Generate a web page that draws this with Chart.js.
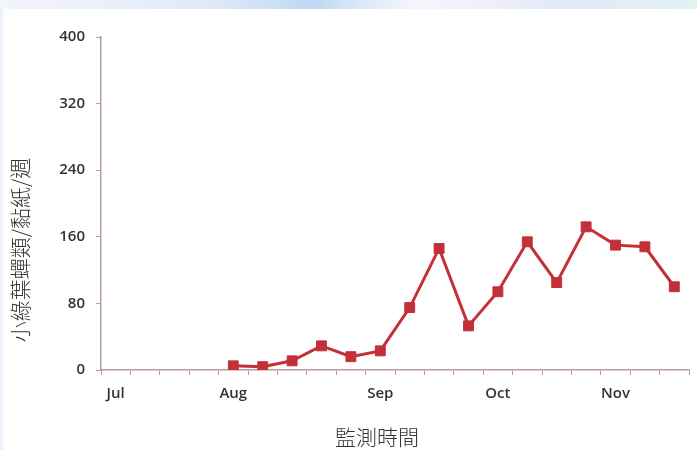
<!DOCTYPE html>
<html>
<head>
<meta charset="utf-8">
<script src="https://cdn.jsdelivr.net/npm/chart.js@4"></script>
<style>
  html, body { margin: 0; padding: 0; background: #fff; }
  #wrap { width: 697px; height: 450px; }
</style>
</head>
<body>
<div id="wrap"><canvas id="myChart"></canvas></div>
<script>
// weekly categories, Jul .. late Nov
var semanas = ['7/1','7/8','7/15','7/22','7/29','8/5','8/12','8/19','8/26','9/2',
               '9/9','9/16','9/23','9/30','10/7','10/14','10/21','10/28','11/4','11/11'];
// tick label shown under a given week index
var meses = ['Jul','','','','Aug','','','','','Sep','','','','Oct','','','','Nov','',''];
// leafhoppers per sticky trap per week
var capturas = [null,null,null,null,5,4,11,29,16,23,75,146,53,94,154,105,172,150,148,100];
var yTicks = [0, 80, 160, 240, 320, 400];
var tituloX = '監測時間';
var tituloY = '小綠葉蟬類/黏紙/週';

var rojo = '#c3303a';
var ejeColor = '#b59d94';

// faint decorative band at the top and left edge, like the printed page
const fondo = {
  id: 'fondo',
  beforeDraw(chart) {
    const c = chart.ctx;
    c.save();
    c.fillStyle = '#fff';
    c.fillRect(0, 0, chart.width, chart.height);
    var g = c.createLinearGradient(0, 0, chart.width, 0);
    g.addColorStop(0, 'rgba(230,234,248,0.5)');
    g.addColorStop(0.3, 'rgba(205,218,242,0.6)');
    g.addColorStop(0.45, 'rgba(160,200,238,0.7)');
    g.addColorStop(0.6, 'rgba(230,232,246,0.4)');
    g.addColorStop(0.8, 'rgba(210,218,242,0.6)');
    g.addColorStop(1, 'rgba(205,232,236,0.6)');
    c.fillStyle = g;
    c.fillRect(0, 0, chart.width, 9);
    var g2 = c.createLinearGradient(0, 0, 7, 0);
    g2.addColorStop(0, 'rgba(215,222,245,0.6)');
    g2.addColorStop(1, 'rgba(255,255,255,0)');
    c.fillStyle = g2;
    c.fillRect(0, 9, 7, chart.height);
    c.restore();
  }
};

// axis titles, placed like in the original figure
const titulos = {
  id: 'titulos',
  afterDraw(chart) {
    const c = chart.ctx;
    c.save();
    c.fillStyle = '#333';
    c.font = '300 21px "Noto Sans CJK TC"';
    c.textAlign = 'center';
    c.textBaseline = 'middle';
    c.fillText(tituloX, 377, 437);
    c.translate(20, 250);
    c.rotate(-Math.PI / 2);
    c.fillText(tituloY, 0, 0);
    c.restore();
  }
};

const ctx = document.getElementById('myChart').getContext('2d');
const myChart = new Chart(ctx, {
  type: 'line',
  data: {
    labels: semanas,
    datasets: [{
      label: '小綠葉蟬類',
      data: capturas,
      borderColor: rojo,
      backgroundColor: rojo,
      borderWidth: 3,
      pointStyle: 'rect',
      pointRadius: 7,
      pointHoverRadius: 7,
      pointBorderWidth: 1,
      tension: 0,
      spanGaps: false
    }]
  },
  options: {
    responsive: true,
    maintainAspectRatio: false,
    animation: false,
    events: [],
    layout: { padding: { left: 0, right: 7, top: 37, bottom: 0 } },
    plugins: { legend: { display: false }, tooltip: { enabled: false } },
    scales: {
      x: {
        offset: true,
        grid: { offset: true, drawOnChartArea: false, drawTicks: true, tickLength: 5, color: ejeColor },
        border: { color: ejeColor, width: 1.5 },
        ticks: {
          autoSkip: false,
          maxRotation: 0,
          padding: 10,
          color: '#333',
          font: { family: 'Open Sans', size: 15, weight: '600' },
          callback: function (v, i) { return meses[i]; }
        },
        afterFit: function (s) { s.height = 80; }
      },
      y: {
        min: 0,
        max: 400,
        afterBuildTicks: function (s) { s.ticks = yTicks.map(function (v) { return { value: v }; }); },
        grid: { drawOnChartArea: false, drawTicks: true, tickLength: 5, color: ejeColor },
        border: { color: ejeColor, width: 1.5 },
        ticks: {
          padding: 11,
          color: '#333',
          font: { family: 'Open Sans', size: 15, weight: '600' }
        },
        afterFit: function (s) { s.width = 101; }
      }
    }
  },
  plugins: [fondo, titulos]
});
</script>
</body>
</html>
